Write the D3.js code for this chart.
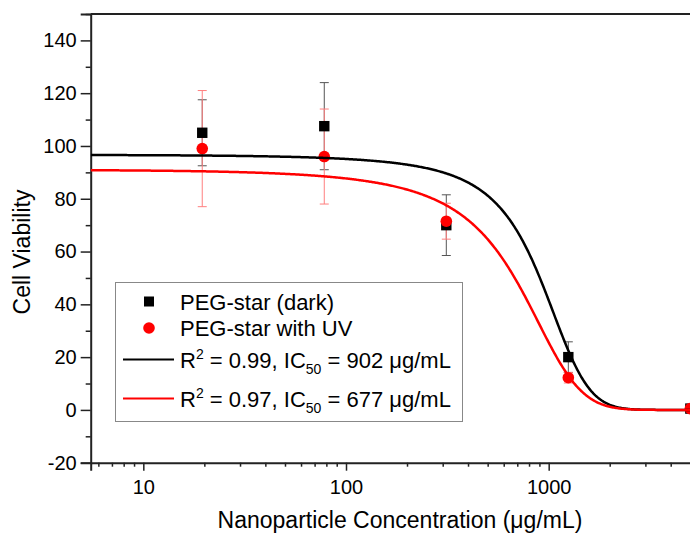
<!DOCTYPE html>
<html><head><meta charset="utf-8">
<script src="https://cdn.jsdelivr.net/npm/d3@7"></script>
<style>
body{margin:0;background:#fff}
svg{display:block;font-family:"Liberation Sans",Arial,sans-serif}
</style>
</head><body>
<svg id="chart" width="690" height="535"></svg>
<script>
// Measured cell viability (% of control) at each nanoparticle dose
const concentrations = [19.53125, 78.125, 312.5, 1250, 5000];
const darkMeans  = [105.0, 107.5, 70.0, 20.0, 0.5];
const darkErrors = [12.5, 16.5, 11.5, 5.8, 0.5];
const uvMeans    = [99.0, 96.0, 71.5, 12.2, 0.5];
const uvErrors   = [22.0, 18.0, 6.8, 2.0, 0.5];
const seriesNames = ["PEG-star (dark)", "PEG-star with UV"];

// Boltzmann fits: y = A2 + (A1 - A2) / (1 + exp((c - IC50) / dx))
const fitR2   = ["0.99", "0.97"];
const fitIC50 = [902, 677];
const fitTop  = [100.5, 100.5];
const fitBottom = [0, 0];
const fitWidth = [280, 300];

const yTicks = [-20, 0, 20, 40, 60, 80, 100, 120, 140];
const yMinorTicks = [-10, 10, 30, 50, 70, 90, 110, 130, 150];
const xTickLabels = [10, 100, 1000];

const svg = d3.select("#chart");

const x = d3.scaleLog().domain([5.5, 6000]).range([90.7, 706.4]);
const y = d3.scaleLinear().domain([-20, 150]).range([462.7, 14]);

const axisColor = "#222";
const font = "Liberation Sans, Arial, sans-serif";

// frame line along the top of the plot
svg.append("line")
  .attr("x1", x.range()[0]).attr("x2", x.range()[1])
  .attr("y1", y(150)).attr("y2", y(150))
  .attr("stroke", axisColor).attr("stroke-width", 2);

// y axis: labelled majors plus unlabelled minors
svg.append("g").attr("transform", `translate(${x.range()[0]},0)`)
  .call(d3.axisLeft(y).tickValues(yTicks).tickSize(10).tickPadding(4).tickFormat(d => String(d)));
svg.append("g").attr("transform", `translate(${x.range()[0]},0)`)
  .call(d3.axisLeft(y).tickValues(yMinorTicks).tickSize(5).tickFormat(""))
  .call(g => g.select(".domain").remove());

// x axis: decades labelled, 2..9 minors
const minorX = [];
for (let d = 1; d <= 1000; d *= 10) for (let k = 2; k <= 9; k++) {
  const v = k * d;
  if (v >= 5.5 && v <= 6000) minorX.push(v);
}
svg.append("g").attr("transform", `translate(0,${y(-20)})`)
  .call(d3.axisBottom(x).tickValues(xTickLabels).tickSize(8).tickPadding(9).tickFormat(d => String(d)));
svg.append("g").attr("transform", `translate(0,${y(-20)})`)
  .call(d3.axisBottom(x).tickValues(minorX).tickSize(4).tickFormat(""))
  .call(g => g.select(".domain").remove());

svg.selectAll(".domain").attr("stroke", axisColor).attr("stroke-width", 2);
svg.selectAll(".tick line").attr("stroke", axisColor).attr("stroke-width", 1.5);
svg.selectAll(".tick text").attr("fill", "#000").attr("font-size", 20).attr("font-family", font);

// axis titles
svg.append("text")
  .attr("transform", "translate(30,252) rotate(-90)")
  .attr("text-anchor", "middle").attr("font-size", 23).text("Cell Viability");
svg.append("text")
  .attr("x", 400).attr("y", 528).attr("text-anchor", "middle").attr("font-size", 23)
  .text("Nanoparticle Concentration (μg/mL)");

// plot area clip
svg.append("clipPath").attr("id", "plotClip").append("rect")
  .attr("x", x.range()[0]).attr("y", y(150))
  .attr("width", x.range()[1] - x.range()[0]).attr("height", y(-20) - y(150));
const plot = svg.append("g");

const boltzmann = i => c => fitBottom[i] + (fitTop[i] - fitBottom[i]) / (1 + Math.exp((c - fitIC50[i]) / fitWidth[i]));
const lx0 = Math.log10(5.5), lx1 = Math.log10(6000);
const samples = d3.range(0, 601).map(k => Math.pow(10, lx0 + k * (lx1 - lx0) / 600));

// error bars
function errorBars(means, errs, color) {
  const g = plot.append("g").attr("stroke", color).attr("stroke-width", 1);
  concentrations.forEach((c, i) => {
    const cx = x(c), top = y(means[i] + errs[i]), bot = y(means[i] - errs[i]);
    g.append("line").attr("x1", cx).attr("x2", cx).attr("y1", top).attr("y2", bot);
    g.append("line").attr("x1", cx - 4.5).attr("x2", cx + 4.5).attr("y1", top).attr("y2", top);
    g.append("line").attr("x1", cx - 4.5).attr("x2", cx + 4.5).attr("y1", bot).attr("y2", bot);
  });
}
errorBars(darkMeans, darkErrors, "#555");
errorBars(uvMeans, uvErrors, "#ff7f7f");

// markers
plot.append("g").selectAll("rect").data(concentrations).join("rect")
  .attr("x", d => x(d) - 5.2).attr("y", (d, i) => y(darkMeans[i]) - 5.2)
  .attr("width", 10.4).attr("height", 10.4).attr("fill", "#000");
plot.append("g").selectAll("circle").data(concentrations).join("circle")
  .attr("cx", d => x(d)).attr("cy", (d, i) => y(uvMeans[i])).attr("r", 5.8).attr("fill", "#f00");

// fitted curves
const fitColors = ["#000", "#f00"];
const line = f => d3.line().x(d => x(d)).y(d => y(f(d)))(samples);
[0, 1].forEach(i => {
  plot.append("path").attr("d", line(boltzmann(i))).attr("fill", "none")
    .attr("stroke", fitColors[i]).attr("stroke-width", 2.5).attr("clip-path", "url(#plotClip)");
});

// legend
const lg = svg.append("g");
lg.append("rect").attr("x", 115.5).attr("y", 282.5).attr("width", 347).attr("height", 139)
  .attr("fill", "#fff").attr("stroke", "#888").attr("stroke-width", 1);
const tx = 180, fs = 22;
lg.append("rect").attr("x", 149 - 5).attr("y", 301.5 - 5).attr("width", 10).attr("height", 10).attr("fill", "#000");
lg.append("text").attr("x", tx).attr("y", 309.5).attr("font-size", fs).text(seriesNames[0]);
lg.append("circle").attr("cx", 149).attr("cy", 328).attr("r", 5.8).attr("fill", "#f00");
lg.append("text").attr("x", tx).attr("y", 335.5).attr("font-size", fs).text(seriesNames[1]);

[0, 1].forEach(i => {
  const cy = [359.5, 398.5][i];
  lg.append("line").attr("x1", 123).attr("x2", 174).attr("y1", cy).attr("y2", cy)
    .attr("stroke", fitColors[i]).attr("stroke-width", 2);
  const t = lg.append("text").attr("x", tx).attr("y", cy + 8).attr("font-size", fs);
  t.append("tspan").text("R");
  t.append("tspan").attr("dy", -9).attr("font-size", 14).text("2");
  t.append("tspan").attr("dy", 9).text(` = ${fitR2[i]}, IC`);
  t.append("tspan").attr("dy", 6).attr("font-size", 14).text("50");
  t.append("tspan").attr("dy", -6).text(` = ${fitIC50[i]} μg/mL`);
});
</script>
</body></html>
